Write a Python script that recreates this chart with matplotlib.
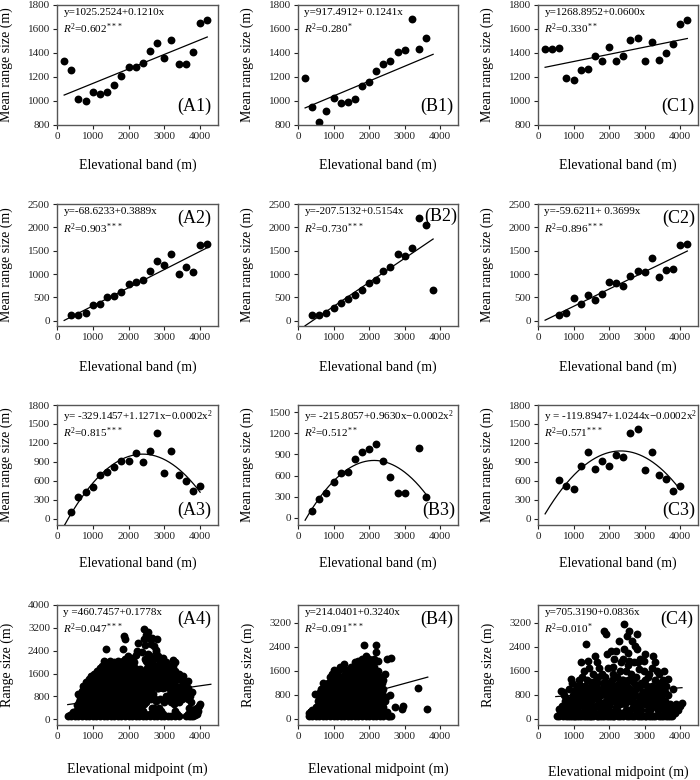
import numpy as np
import matplotlib.pyplot as plt

plt.rcParams['font.family'] = 'Liberation Serif'
plt.rcParams['mathtext.fontset'] = 'custom'
plt.rcParams['mathtext.rm'] = 'Liberation Serif'
plt.rcParams['mathtext.it'] = 'Liberation Serif:italic'

# ---- data ----
A1_x = [200, 400, 600, 800, 1000, 1200, 1400, 1600, 1800, 2000, 2200, 2400, 2600, 2800, 3000, 3200, 3400, 3600, 3800, 4000, 4200]
A1_y = [1335, 1257, 1013, 997, 1074, 1058, 1074, 1130, 1207, 1285, 1285, 1318, 1418, 1487, 1362, 1506, 1310, 1310, 1409, 1648, 1673]
B1_x = [200, 400, 600, 800, 1000, 1200, 1400, 1600, 1800, 2000, 2200, 2400, 2600, 2800, 3000, 3200, 3400, 3600]
B1_y = [1188, 947, 828, 917, 1027, 980, 994, 1013, 1124, 1155, 1252, 1307, 1335, 1409, 1423, 1684, 1431, 1526]
C1_x = [200, 400, 600, 800, 1000, 1200, 1400, 1600, 1800, 2000, 2200, 2400, 2600, 2800, 3000, 3200, 3400, 3600, 3800, 4000, 4200]
C1_y = [1437, 1437, 1440, 1188, 1171, 1260, 1265, 1373, 1335, 1451, 1335, 1373, 1512, 1526, 1335, 1490, 1340, 1398, 1476, 1642, 1673]

A2_x = [400, 600, 800, 1000, 1200, 1400, 1600, 1800, 2000, 2200, 2400, 2600, 2800, 3000, 3200, 3400, 3600, 3800, 4000, 4200]
A2_y = [115, 115, 165, 337, 352, 517, 531, 617, 797, 840, 876, 1063, 1271, 1192, 1422, 998, 1142, 1055, 1623, 1644]
B2_x = [400, 600, 800, 1000, 1200, 1400, 1600, 1800, 2000, 2200, 2400, 2600, 2800, 3000, 3200, 3400, 3600, 3800]
B2_y = [115, 115, 165, 273, 373, 474, 546, 653, 804, 876, 1063, 1142, 1436, 1386, 1565, 2211, 2053, 653]
C2_x = [600, 800, 1000, 1200, 1400, 1600, 1800, 2000, 2200, 2400, 2600, 2800, 3000, 3200, 3400, 3600, 3800, 4000, 4200]
C2_y = [115, 165, 488, 359, 560, 445, 574, 833, 818, 754, 962, 1063, 1048, 1336, 948, 1084, 1113, 1630, 1651]

A3_x = [400, 600, 800, 1000, 1200, 1400, 1600, 1800, 2000, 2200, 2400, 2600, 2800, 3000, 3200, 3400, 3600, 3800, 4000]
A3_y = [100, 342, 416, 505, 695, 742, 816, 916, 916, 1042, 905, 1074, 1363, 716, 1079, 689, 595, 432, 511]
B3_x = [400, 600, 800, 1000, 1200, 1400, 1600, 1800, 2000, 2200, 2400, 2600, 2800, 3000, 3400, 3600]
B3_y = [98, 267, 352, 511, 633, 652, 830, 928, 980, 1041, 806, 586, 347, 347, 994, 295]
C3_x = [600, 800, 1000, 1200, 1400, 1600, 1800, 2000, 2200, 2400, 2600, 2800, 3000, 3200, 3400, 3600, 3800, 4000]
C3_y = [616, 516, 463, 842, 1058, 784, 911, 832, 1016, 974, 1358, 1426, 763, 1058, 695, 621, 432, 516]

# species level: (elevational midpoint, range size)
A4_pts = [
    (300, 100), (350, 150), (400, 100), (450, 250), (420, 200), (500, 100), (520, 300), (560, 500),
    (600, 100), (600, 300), (620, 600), (600, 870), (650, 820), (650, 200), (650, 450), (650, 700),
    (700, 100), (680, 250), (720, 450), (700, 700), (690, 1000), (740, 1180),
    (750, 150), (750, 350), (750, 600), (750, 850), (760, 1050),
    (800, 100), (800, 300), (820, 550), (780, 800), (830, 1050), (800, 1300),
    (850, 200), (850, 450), (850, 700), (850, 950), (850, 1200),
    (900, 100), (880, 200), (920, 400), (900, 650), (870, 900), (930, 1150), (900, 1400),
    (950, 200), (950, 450), (950, 800), (950, 1050), (950, 1300), (960, 1500),
    (1000, 100), (1000, 300), (980, 550), (1020, 750), (1000, 1000), (990, 1300), (1030, 1580),
    (1050, 200), (1050, 400), (1050, 650), (1050, 900), (1050, 1200), (1050, 1450),
    (1100, 100), (1100, 250), (1080, 450), (1120, 800), (1100, 1100), (1090, 1400), (1110, 1700),
    (1150, 150), (1150, 400), (1150, 700), (1150, 1000), (1150, 1300), (1150, 1600),
    (1200, 100), (1200, 300), (1220, 600), (1180, 900), (1200, 1200), (1210, 1500), (1190, 1800),
    (1250, 200), (1250, 450), (1250, 800), (1250, 1100), (1250, 1400), (1250, 1700),
    (1300, 100), (1300, 200), (1280, 500), (1320, 750), (1300, 1000), (1310, 1300), (1290, 1600), (1300, 2030), (1270, 1850),
    (1350, 150), (1350, 400), (1350, 650), (1350, 900), (1350, 1200), (1350, 1500), (1350, 1800), (1350, 2000),
    (1400, 100), (1400, 300), (1420, 600), (1380, 900), (1400, 1150), (1410, 1450), (1390, 1700), (1360, 2460), (1430, 1950),
    (1450, 200), (1450, 500), (1450, 750), (1450, 1000), (1450, 1300), (1450, 1600), (1450, 1850),
    (1500, 100), (1500, 250), (1480, 450), (1520, 800), (1500, 1050), (1490, 1300), (1510, 1600), (1500, 1850), (1480, 2050),
    (1550, 150), (1550, 400), (1550, 650), (1550, 950), (1550, 1200), (1550, 1500), (1550, 1750), (1550, 1950),
    (1600, 100), (1600, 300), (1620, 550), (1580, 750), (1600, 1100), (1610, 1450), (1590, 1750), (1600, 2000),
    (1650, 200), (1650, 450), (1650, 800), (1650, 1000), (1650, 1300), (1650, 1600), (1650, 1900),
    (1700, 100), (1700, 200), (1680, 600), (1720, 900), (1700, 1200), (1690, 1450), (1710, 1800), (1700, 2050),
    (1750, 150), (1750, 400), (1750, 700), (1750, 1000), (1750, 1350), (1750, 1650), (1750, 1950),
    (1800, 100), (1800, 300), (1780, 500), (1820, 800), (1800, 1050), (1810, 1300), (1790, 1600), (1800, 1900), (1850, 2450), (1870, 2900),
    (1850, 200), (1850, 450), (1850, 650), (1850, 950), (1850, 1200), (1850, 1500), (1850, 1750), (1850, 2050),
    (1900, 100), (1900, 200), (1920, 450), (1880, 700), (1900, 1100), (1910, 1500), (1890, 1800), (1900, 2100), (1910, 2800),
    (1950, 150), (1950, 400), (1950, 800), (1950, 1000), (1950, 1300), (1950, 1600), (1950, 1950),
    (2000, 100), (2000, 300), (2020, 600), (1980, 900), (2000, 1200), (2010, 1450), (1990, 1750), (2000, 2000), (1980, 2200),
    (2050, 200), (2050, 450), (2050, 700), (2050, 1100), (2050, 1350), (2050, 1650), (2050, 1900), (2050, 2100),
    (2100, 100), (2100, 200), (2080, 500), (2120, 800), (2100, 1000), (2090, 1300), (2110, 1600), (2100, 1900), (2120, 2150),
    (2150, 150), (2150, 400), (2150, 650), (2150, 900), (2150, 1200), (2150, 1450), (2150, 1750), (2150, 2000),
    (2200, 100), (2200, 300), (2180, 450), (2220, 700), (2200, 1100), (2210, 1500), (2190, 1800), (2200, 2250), (2230, 2400),
    (2250, 200), (2250, 550), (2250, 800), (2250, 1000), (2250, 1300), (2250, 1650),
    (2300, 100), (2300, 200), (2280, 600), (2320, 900), (2300, 1250), (2310, 1600), (2270, 2670), (2320, 1750),
    (2350, 150), (2350, 400), (2350, 700), (2350, 1050), (2350, 1400),
    (2400, 100), (2400, 300), (2420, 550), (2380, 800), (2400, 1300), (2410, 1500), (2380, 2350), (2430, 2800), (2430, 3150),
    (2450, 200), (2450, 700), (2450, 1000), (2450, 1200), (2450, 1700), (2450, 2100), (2460, 2600),
    (2500, 100), (2500, 600), (2520, 900), (2480, 1100), (2500, 1400), (2510, 1800), (2490, 2050), (2500, 2950), (2550, 3050),
    (2550, 800), (2550, 1250), (2550, 1550), (2550, 1950), (2550, 2300), (2560, 2850),
    (2600, 100), (2600, 200), (2620, 700), (2580, 1000), (2600, 1250), (2610, 1700), (2590, 2200), (2650, 2850),
    (2650, 400), (2650, 1100), (2650, 1400), (2650, 1800), (2650, 2000), (2640, 2650),
    (2700, 100), (2700, 400), (2680, 900), (2720, 1300), (2700, 1600), (2690, 1900), (2770, 2430), (2720, 2550),
    (2750, 200), (2750, 700), (2750, 1200), (2750, 1500), (2750, 1750), (2750, 2150), (2780, 2350),
    (2800, 100), (2800, 200), (2780, 650), (2820, 1100), (2800, 1500), (2810, 2200), (2790, 2800), (2780, 1800),
    (2850, 400), (2850, 1300), (2850, 1600), (2850, 1950),
    (2900, 100), (2900, 300), (2880, 700), (2900, 1300), (2910, 1700), (2890, 2000),
    (2950, 200), (2950, 1100), (2950, 1400), (2950, 1650), (2950, 1900),
    (3000, 100), (3000, 600), (2980, 1200), (3000, 1500), (3010, 1800), (2950, 2150),
    (3050, 800), (3050, 1300), (3050, 1700), (3050, 2000),
    (3100, 100), (3080, 700), (3120, 1100), (3100, 1400), (3110, 1900),
    (3150, 900), (3150, 1200), (3150, 1500), (3150, 1750),
    (3200, 100), (3200, 600), (3220, 800), (3180, 1300), (3200, 1600), (3250, 2090),
    (3250, 1000), (3250, 1400), (3250, 1850),
    (3300, 100), (3300, 300), (3280, 550), (3320, 900), (3300, 1200), (3310, 1700), (3290, 2000),
    (3350, 200), (3350, 700), (3350, 1100), (3350, 1500),
    (3400, 100), (3400, 600), (3420, 1000), (3380, 1400), (3400, 1600),
    (3450, 800), (3450, 1100), (3450, 1400),
    (3500, 700), (3520, 900), (3480, 1200), (3530, 1510),
    (3550, 1100), (3550, 1300),
    (3600, 100), (3580, 1000), (3650, 1330),
    (3650, 200), (3650, 700), (3650, 900), (3650, 1100),
    (3700, 100), (3700, 200), (3680, 400), (3720, 800), (3770, 960),
    (3750, 300), (3750, 600), (3750, 100),
    (3800, 100), (3800, 200), (3820, 300), (3850, 150), (3850, 350),
    (3900, 200), (3900, 400), (3950, 300), (3980, 450), (4000, 520),
]
B4_pts = [
    (300, 100), (300, 200), (350, 150), (400, 100), (400, 300), (450, 200),
    (500, 100), (500, 200), (520, 400), (480, 850), (550, 150), (550, 350), (550, 600),
    (600, 100), (600, 300), (620, 500), (580, 700), (610, 900),
    (650, 200), (650, 450), (650, 700), (650, 1000),
    (700, 100), (700, 200), (680, 400), (720, 600), (700, 900), (700, 1200),
    (750, 150), (750, 350), (750, 550), (750, 800), (750, 1050),
    (800, 100), (800, 300), (820, 500), (780, 800), (800, 1000), (820, 1100),
    (850, 200), (850, 450), (850, 650), (850, 900), (850, 1200),
    (900, 100), (900, 200), (880, 400), (920, 700), (900, 900), (900, 1400),
    (950, 150), (950, 400), (950, 600), (950, 850), (950, 1100), (950, 1500),
    (1000, 100), (1000, 300), (980, 600), (1020, 800), (1000, 1100), (990, 1300), (1020, 1630),
    (1050, 200), (1050, 450), (1050, 700), (1050, 950), (1050, 1250), (1050, 1450),
    (1100, 100), (1100, 200), (1080, 500), (1120, 900), (1100, 1200), (1110, 1500),
    (1150, 150), (1150, 350), (1150, 650), (1150, 800), (1150, 1100), (1150, 1350), (1150, 1650),
    (1200, 100), (1200, 300), (1220, 400), (1180, 700), (1200, 1000), (1210, 1300), (1190, 1750),
    (1250, 200), (1250, 500), (1250, 800), (1250, 1100), (1250, 1400), (1250, 1750),
    (1300, 100), (1300, 200), (1280, 600), (1320, 900), (1300, 1200), (1310, 1500), (1300, 1840),
    (1350, 150), (1350, 400), (1350, 700), (1350, 1000), (1350, 1300), (1350, 1600),
    (1400, 100), (1400, 300), (1420, 500), (1380, 800), (1400, 1100), (1410, 1400), (1390, 1650),
    (1450, 200), (1450, 600), (1450, 900), (1450, 1200), (1450, 1500),
    (1500, 100), (1500, 200), (1480, 400), (1520, 700), (1500, 1000), (1490, 1300), (1510, 1600), (1500, 1750),
    (1550, 150), (1550, 500), (1550, 800), (1550, 1100), (1550, 1400), (1550, 1700),
    (1600, 100), (1600, 300), (1620, 600), (1580, 900), (1600, 1200), (1610, 1500), (1590, 1800), (1600, 1900),
    (1650, 200), (1650, 400), (1650, 700), (1650, 1000), (1650, 1300), (1650, 1600), (1650, 1850),
    (1700, 100), (1700, 200), (1680, 500), (1720, 800), (1700, 1100), (1690, 1400), (1710, 1700), (1700, 1950),
    (1750, 150), (1750, 600), (1750, 900), (1750, 1200), (1750, 1500), (1750, 1800),
    (1800, 100), (1800, 300), (1780, 400), (1820, 700), (1800, 1000), (1810, 1300), (1790, 1600), (1800, 2000), (1860, 2470),
    (1850, 200), (1850, 500), (1850, 800), (1850, 1100), (1850, 1400), (1850, 1700), (1850, 1950),
    (1900, 100), (1900, 200), (1920, 600), (1880, 900), (1900, 1200), (1910, 1500), (1890, 1900), (1900, 2100),
    (1950, 150), (1950, 400), (1950, 700), (1950, 1000), (1950, 1300), (1950, 1600), (1950, 2000),
    (2000, 100), (2000, 300), (2020, 500), (1980, 800), (2000, 1100), (2010, 1400), (1990, 1800), (2000, 2000),
    (2050, 200), (2050, 600), (2050, 900), (2050, 1200), (2050, 1500), (2050, 1700),
    (2100, 100), (2100, 200), (2080, 400), (2120, 700), (2100, 1000), (2090, 1300), (2110, 1600), (2100, 1900),
    (2150, 150), (2150, 500), (2150, 800), (2150, 1100), (2150, 1400), (2150, 1750), (2150, 2000),
    (2200, 100), (2200, 300), (2180, 600), (2220, 900), (2200, 1200), (2210, 1500), (2190, 2240), (2190, 2480),
    (2250, 200), (2250, 400), (2250, 700), (2250, 1000), (2250, 1300), (2250, 1600),
    (2300, 100), (2300, 200), (2280, 500), (2320, 800), (2300, 1100), (2310, 1400), (2260, 1940),
    (2350, 300), (2350, 600), (2350, 900), (2350, 1200),
    (2400, 100), (2330, 170), (2400, 390), (2420, 700), (2400, 1000), (2380, 1300), (2450, 1500),
    (2450, 200), (2450, 600), (2500, 250), (2550, 100),
    (2530, 110), (2470, 720), (2510, 2000), (2590, 800), (2610, 2030), (2620, 100),
    (2740, 390), (2930, 330), (2960, 420), (3370, 1020), (3630, 330),
]
C4_pts = [
    (540, 110), (600, 330), (640, 950), (700, 900), (700, 100), (760, 600), (790, 700), (850, 100),
    (880, 170), (900, 400), (920, 1350), (950, 100), (980, 800), (1020, 440), (1050, 100), (1060, 650),
    (1100, 300), (1120, 900), (1150, 100), (1160, 1300), (1200, 500), (1210, 1890), (1240, 750),
    (1260, 250), (1300, 100), (1300, 1600), (1330, 1100), (1350, 2500), (1370, 400), (1400, 100),
    (1395, 1940), (1420, 850), (1450, 300), (1480, 1250), (1500, 100), (1500, 600), (1540, 1500),
    (1560, 950), (1600, 200), (1610, 2090), (1630, 450), (1650, 100), (1660, 1200), (1700, 700),
    (1720, 1700), (1750, 100), (1760, 350), (1790, 1000), (1820, 550), (1850, 100), (1860, 2940),
    (1880, 1400), (1900, 2830), (1910, 800), (1950, 2170), (1960, 300), (2000, 100), (2010, 1150),
    (2050, 2280), (2060, 600), (2100, 100), (2100, 1750), (2150, 900), (2190, 2280), (2200, 400),
    (2230, 1400), (2250, 100), (2280, 2610), (2300, 700), (2330, 1900), (2350, 200), (2380, 1100),
    (2420, 3170), (2420, 2330), (2450, 500), (2470, 1600), (2500, 100), (2510, 2780), (2540, 850),
    (2560, 2940), (2560, 1940), (2600, 300), (2620, 1300), (2650, 100), (2680, 600), (2700, 1890),
    (2740, 2440), (2750, 1000), (2790, 2830), (2790, 2330), (2800, 100), (2820, 400), (2840, 1670),
    (2870, 750), (2900, 1200), (2920, 100), (2950, 550), (2980, 1940), (3020, 2170), (3030, 900),
    (3050, 100), (3080, 300), (3100, 1400), (3130, 650), (3170, 100), (3200, 1100), (3240, 2110),
    (3250, 450), (3300, 1890), (3300, 100), (3330, 800), (3350, 1610), (3380, 300), (3420, 1200),
    (3450, 100), (3480, 600), (3530, 1610), (3550, 300), (3580, 900), (3600, 100), (3670, 1330),
    (3700, 500), (3720, 100), (3810, 1000), (3850, 200), (3910, 440), (3950, 300), (4050, 530),
    (600, 100), (800, 100), (900, 100), (1000, 100), (1100, 100), (1200, 100), (1350, 100), (1450, 100),
    (1550, 100), (1700, 100), (1800, 100), (1950, 100), (2050, 100), (2150, 100), (2300, 100), (2400, 100),
    (2550, 100), (2700, 100), (2880, 100), (3000, 100), (3120, 100), (3230, 100), (3400, 100), (3520, 100),
    (3650, 100), (3780, 100),
    (620, 200), (680, 450), (720, 800), (800, 300), (820, 500), (860, 1000), (900, 250), (940, 650),
    (960, 1200), (1000, 300), (1040, 900), (1080, 550), (1100, 1100), (1130, 200), (1180, 750), (1220, 1000),
    (1250, 1400), (1280, 600), (1320, 350), (1340, 800), (1380, 1300), (1420, 550), (1440, 1700), (1470, 200),
    (1500, 900), (1520, 1100), (1560, 400), (1590, 700), (1620, 1300), (1650, 1900), (1680, 500), (1700, 1000),
    (1730, 250), (1770, 800), (1800, 1500), (1830, 1200), (1870, 400), (1900, 600), (1930, 1000), (1970, 1700),
    (2000, 450), (2030, 800), (2070, 1300), (2080, 250), (2120, 600), (2140, 2000), (2170, 1100), (2210, 300),
    (2240, 800), (2270, 1200), (2300, 1600), (2320, 500), (2360, 900), (2400, 1300), (2400, 2000), (2430, 700),
    (2470, 300), (2490, 1100), (2520, 1800), (2530, 2200), (2580, 600), (2600, 1000), (2620, 1500), (2640, 2600),
    (2660, 400), (2700, 1200), (2720, 800), (2760, 1400), (2770, 300), (2800, 1900), (2830, 600), (2860, 1100),
    (2880, 2000), (2900, 300), (2940, 900), (2970, 1600), (3000, 1300), (3000, 500), (3060, 1100), (3090, 700),
    (3130, 1500), (3150, 300), (3180, 900), (3210, 1700), (3240, 600), (3280, 1300), (3310, 400), (3340, 1000),
    (3370, 600), (3400, 1500), (3430, 800), (3460, 1000), (3500, 400), (3520, 1300), (3560, 600), (3600, 1100),
    (3620, 400), (3660, 800), (3700, 200), (3760, 400), (3800, 300), (3880, 500), (3980, 450),
    (1000, 600), (1060, 1000), (1120, 400), (1180, 1150), (1240, 500), (1300, 900), (1360, 600), (1400, 1000),
    (1460, 700), (1520, 300), (1580, 1100), (1640, 800), (1700, 1400), (1760, 550), (1820, 900), (1880, 200),
    (1940, 1200), (2000, 700), (2060, 1000), (2120, 1500), (2180, 700), (2240, 500), (2300, 1000), (2350, 1300),
    (2420, 900), (2480, 600), (2540, 1300), (2600, 700), (2660, 900), (2720, 500), (2780, 1100), (2840, 300),
    (2900, 800), (2960, 1200), (3020, 700), (3080, 1000), (3140, 400), (3200, 800), (3260, 1000), (3320, 600),
    (3380, 1100), (3440, 400), (3500, 800),
]

# fitted models (constant, linear, quadratic)
A1_fit = [1025.2524, 0.1210, 0.0]
B1_fit = [917.4912, 0.1241, 0.0]
C1_fit = [1268.8952, 0.0600, 0.0]
A2_fit = [-68.6233, 0.3889, 0.0]
B2_fit = [-207.5132, 0.5154, 0.0]
C2_fit = [-59.6211, 0.3699, 0.0]
A3_fit = [-329.1457, 1.1271, -0.000235]
B3_fit = [-215.8057, 0.9630, -0.000225]
C3_fit = [-119.8947, 1.0244, -0.00022]
A4_fit = [460.7457, 0.1778, 0.0]
B4_fit = [214.0401, 0.3240, 0.0]
C4_fit = [705.3190, 0.0836, 0.0]

W, H = 700, 780
LEFTS = [57, 298, 538]
WIDTHS = [161, 160, 160]
TOPS = [5, 204, 405, 605]
HEIGHTS = [120, 122, 120, 120]

fig = plt.figure(figsize=(7, 7.8), dpi=100)


def make_ax(col, row):
    l = LEFTS[col] / W
    b = 1 - (TOPS[row] + HEIGHTS[row]) / H
    return fig.add_axes([l, b, WIDTHS[col] / W, HEIGHTS[row] / H])


def panel(col, row, x, y, fit, xr, ylim, yticks, eq, r2, tag, tag_xy, tag_va,
          ylabel='Mean range size (m)', xlabel='Elevational band (m)', xlab_y=-0.28, r2_y=0.86):
    ax = make_ax(col, row)
    ax.scatter(x, y, s=32, color='black', linewidths=0, zorder=2)
    xx = np.linspace(xr[0], xr[1], 200)
    ax.plot(xx, fit[0] + fit[1] * xx + fit[2] * xx ** 2, color='black', lw=0.9, zorder=3)
    ax.set_xlim(0, 4500)
    ax.set_ylim(*ylim)
    ax.set_xticks([0, 1000, 2000, 3000, 4000])
    ax.set_yticks(yticks)
    ax.tick_params(direction='out', length=3, width=0.8, labelsize=8, pad=2, colors='#222222')
    for s in ax.spines.values():
        s.set_color('#555555')
        s.set_linewidth(1.0)
    ax.set_ylabel(ylabel, fontsize=10)
    ax.set_xlabel(xlabel, fontsize=10)
    ax.yaxis.set_label_coords(-0.275 if row < 3 else -0.27, 0.5)
    ax.xaxis.set_label_coords(0.5, xlab_y)
    ax.text(0.04, 0.975, eq, transform=ax.transAxes, fontsize=8, va='top', ha='left', zorder=4)
    ax.text(0.04, r2_y, r2, transform=ax.transAxes, fontsize=8, va='top', ha='left', zorder=4)
    ax.text(tag_xy[0], tag_xy[1], tag, transform=ax.transAxes, fontsize=13, va=tag_va, ha='right', zorder=4)
    return ax


t1 = [800, 1000, 1200, 1400, 1600, 1800]
t2 = [0, 500, 1000, 1500, 2000, 2500]
t3 = [0, 300, 600, 900, 1200, 1500, 1800]

panel(0, 0, A1_x, A1_y, A1_fit, (200, 4200), (800, 1800), t1,
      'y=1025.2524+0.1210x', r'$R^2$=0.602$^{***}$', '(A1)', (0.96, 0.08), 'bottom')
panel(1, 0, B1_x, B1_y, B1_fit, (200, 3800), (800, 1800), t1,
      'y=917.4912+ 0.1241x', r'$R^2$=0.280$^{*}$', '(B1)', (0.97, 0.08), 'bottom')
panel(2, 0, C1_x, C1_y, C1_fit, (200, 4200), (800, 1800), t1,
      'y=1268.8952+0.0600x', r'$R^2$=0.330$^{**}$', '(C1)', (0.975, 0.08), 'bottom')

panel(0, 1, A2_x, A2_y, A2_fit, (200, 4200), (-110, 2500), t2,
      'y=-68.6233+0.3889x', r'$R^2$=0.903$^{***}$', '(A2)', (0.96, 0.95), 'top')
panel(1, 1, B2_x, B2_y, B2_fit, (200, 3800), (-110, 2500), t2,
      'y=-207.5132+0.5154x', r'$R^2$=0.730$^{***}$', '(B2)', (0.995, 0.97), 'top')
panel(2, 1, C2_x, C2_y, C2_fit, (200, 4200), (-110, 2500), t2,
      'y=-59.6211+ 0.3699x', r'$R^2$=0.896$^{***}$', '(C2)', (0.98, 0.95), 'top')

panel(0, 2, A3_x, A3_y, A3_fit, (200, 4000), (-100, 1800), t3,
      'y= -329.1457+1.1271x\u22120.0002x$^2$', r'$R^2$=0.815$^{***}$', '(A3)', (0.955, 0.05), 'bottom',
      xlab_y=-0.26, r2_y=0.83)
panel(1, 2, B3_x, B3_y, B3_fit, (200, 3600), (-100, 1600), t3[:-1],
      'y= -215.8057+0.9630x\u22120.0002x$^2$', r'$R^2$=0.512$^{**}$', '(B3)', (0.98, 0.05), 'bottom',
      xlab_y=-0.26, r2_y=0.83)
panel(2, 2, C3_x, C3_y, C3_fit, (200, 4000), (-100, 1800), t3,
      'y = -119.8947+1.0244x\u22120.0002x$^2$', r'$R^2$=0.571$^{***}$', '(C3)', (0.98, 0.05), 'bottom',
      xlab_y=-0.26, r2_y=0.83)

a4x, a4y = zip(*A4_pts)
b4x, b4y = zip(*B4_pts)
c4x, c4y = zip(*C4_pts)
panel(0, 3, a4x, a4y, A4_fit, (300, 4300), (-200, 4000), [0, 800, 1600, 2400, 3200, 4000],
      'y =460.7457+0.1778x', r'$R^2$=0.047$^{***}$', '(A4)', (0.955, 0.95), 'top',
      ylabel='Range size (m)', xlabel='Elevational midpoint (m)', xlab_y=-0.31)
panel(1, 3, b4x, b4y, B4_fit, (300, 3650), (-200, 3800), [0, 800, 1600, 2400, 3200],
      'y=214.0401+0.3240x', r'$R^2$=0.091$^{***}$', '(B4)', (0.97, 0.95), 'top',
      ylabel='Range size (m)', xlabel='Elevational midpoint (m)', xlab_y=-0.31)
panel(2, 3, c4x, c4y, C4_fit, (500, 4050), (-200, 3800), [0, 800, 1600, 2400, 3200],
      'y=705.3190+0.0836x', r'$R^2$=0.010$^{*}$', '(C4)', (0.97, 0.95), 'top',
      ylabel='Range size (m)', xlabel='Elevational midpoint (m)', xlab_y=-0.34)

fig.savefig('out.png', dpi=100, facecolor='white')
